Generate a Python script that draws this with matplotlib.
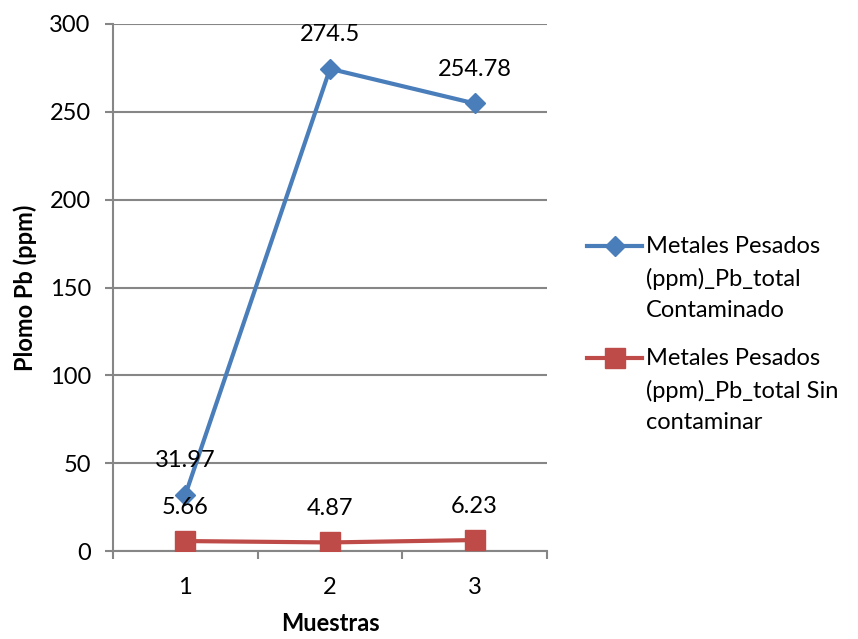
import matplotlib
matplotlib.use("Agg")
import matplotlib.pyplot as plt
from matplotlib.lines import Line2D

plt.rcParams['font.family'] = ['Lato', 'DejaVu Sans']

categories = [1, 2, 3]
contaminado = [31.97, 274.5, 254.78]
sin_contaminar = [5.66, 4.87, 6.23]
labels_cont = ["31.97", "274.5", "254.78"]
labels_sin = ["5.66", "4.87", "6.23"]
yticks = [0, 50, 100, 150, 200, 250, 300]
series_names = ["Metales Pesados\n(ppm)_Pb_total\nContaminado",
                "Metales Pesados\n(ppm)_Pb_total Sin\ncontaminar"]

blue = "#4A7EBB"
red = "#BE4B48"
grey = "#868686"
fs = 17

W, H = 858, 639
fig = plt.figure(figsize=(W/100, H/100), dpi=100)
ax = fig.add_axes([113/W, 1-551/H, (547-113)/W, (551-24)/H])

ax.plot(categories, contaminado, color=blue, lw=3, marker="D", ms=10, zorder=3)
ax.plot(categories, sin_contaminar, color=red, lw=3, marker="s", ms=14, zorder=3)

for x, y, t in zip(categories, contaminado, labels_cont):
    ax.annotate(t, (x, y), xytext=(0, 24.5), textcoords="offset points",
                ha="center", va="center", fontsize=fs, color="black", zorder=4)
for x, y, t in zip(categories, sin_contaminar, labels_sin):
    ax.annotate(t, (x, y), xytext=(0, 24.5), textcoords="offset points",
                ha="center", va="center", fontsize=fs, color="black", zorder=4)

ax.set_xlim(0.5, 3.5)
ax.set_ylim(0, 300)
ax.set_yticks(yticks)
ax.set_yticklabels([str(v) for v in yticks], fontsize=fs)
ax.yaxis.grid(True, color=grey, lw=1.5)
ax.set_axisbelow(True)

ax.set_xticks([0.5, 1.5, 2.5, 3.5])
ax.set_xticklabels([])
ax.set_xticks(categories, minor=True)
ax.set_xticklabels([str(c) for c in categories], minor=True, fontsize=fs)
ax.tick_params(axis="x", which="major", length=6, width=1.5, color=grey, direction="out")
ax.tick_params(axis="x", which="minor", length=0, pad=19)
ax.tick_params(axis="y", length=6, width=1.5, color=grey, pad=10)

for s in ["top", "right"]:
    ax.spines[s].set_visible(False)
for s in ["left", "bottom"]:
    ax.spines[s].set_color(grey)
    ax.spines[s].set_linewidth(1.5)

ax.set_xlabel("Muestras", fontsize=fs, fontweight="bold", labelpad=10)
ax.set_ylabel("Plomo Pb (ppm)", fontsize=fs, fontweight="bold", labelpad=9)

# Legend drawn in figure coordinates (handle aligned with first text line)
leg_styles = [dict(color=blue, marker="D", ms=10), dict(color=red, marker="s", ms=14)]
leg_y = [246, 358]
for name, sty, yy in zip(series_names, leg_styles, leg_y):
    yf = 1 - yy/H
    fig.add_artist(Line2D([587/W, 642/W], [yf, yf], lw=3, color=sty["color"],
                          transform=fig.transFigure))
    fig.add_artist(Line2D([614.5/W], [yf], lw=0, marker=sty["marker"], ms=sty["ms"],
                          color=sty["color"], transform=fig.transFigure))
    fig.text(646/W, yf + 10/H, name, fontsize=fs, ha="left", va="top",
             linespacing=1.6)

fig.savefig("out.png", dpi=100)
